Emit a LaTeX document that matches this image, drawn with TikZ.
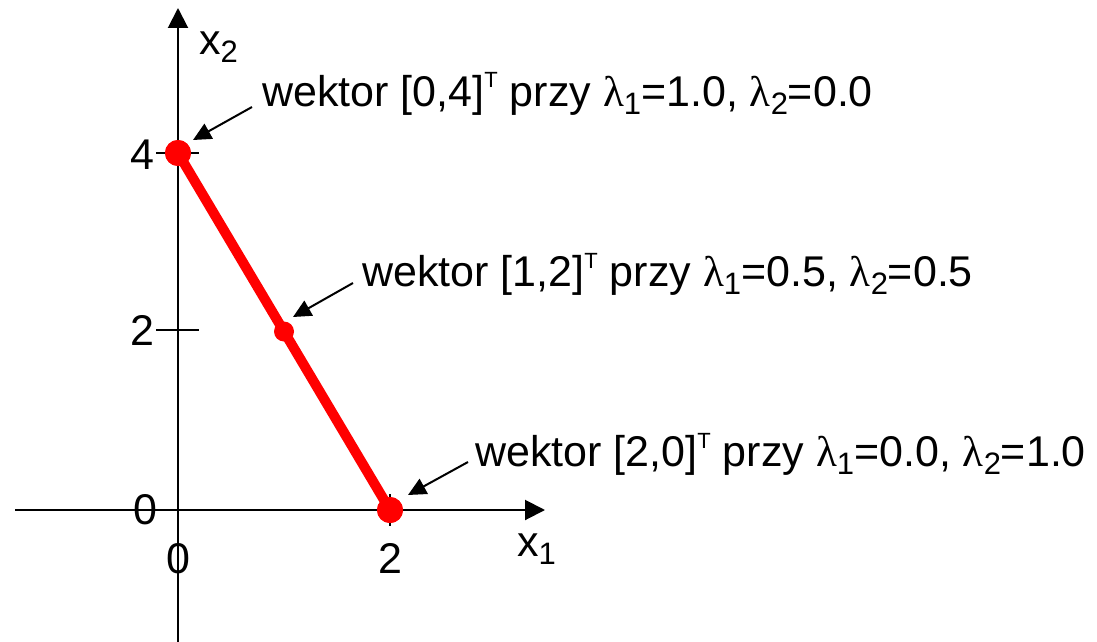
\documentclass[tikz,border=0pt]{standalone}
\usepackage{fontspec}
\setmainfont{Liberation Sans}
\newfontfamily\grkfont{Liberation Serif}
\usetikzlibrary{arrows.meta}
\newcommand{\labfont}{\fontsize{43}{50}\selectfont}
\newcommand{\mysup}[1]{\raisebox{18pt}{\fontsize{22}{26}\selectfont #1}}
\newcommand{\mysub}[1]{\raisebox{-8pt}{\fontsize{31}{36}\selectfont #1}}
\newcommand{\lam}{{\grkfont λ}}
\tikzset{
  axis/.style={line width=2pt,-{Triangle[length=20pt,width=20pt]}},
  pointer/.style={line width=2pt,-{Triangle[length=18pt,width=17pt]}},
  tickline/.style={line width=1.5pt},
  txt/.style={inner sep=0pt,font=\labfont},
  bigdot/.style={circle,fill=red,inner sep=0pt,minimum size=26pt},
  smalldot/.style={circle,fill=red,inner sep=0pt,minimum size=20pt},
  seg/.style={red,line width=10pt}
}
\begin{document}
\begin{tikzpicture}[x=1pt,y=-1pt]
\useasboundingbox (0,0) rectangle (1097,642);
% axes
\coordinate (ybot) at (178,642);
\coordinate (ytop) at (178,8);
\coordinate (xleft) at (15,510);
\coordinate (xright) at (545,510);
\draw[axis] (ybot) -- (ytop);
\draw[axis] (xleft) -- (xright);
% ticks
\coordinate (t4a) at (156,153); \coordinate (t4b) at (199,153);
\coordinate (t2a) at (156,330); \coordinate (t2b) at (199,330);
\coordinate (tx2a) at (390,494); \coordinate (tx2b) at (390,526);
\draw[tickline] (t4a) -- (t4b);
\draw[tickline] (t2a) -- (t2b);
\draw[tickline] (tx2a) -- (tx2b);
% tick labels
\node[txt,anchor=east] (ly4) at (155,155) {4};
\node[txt,anchor=east] (ly2) at (155,330) {2};
\node[txt,anchor=east] (ly0) at (158,510) {0};
\node[txt,anchor=base] (lx0) at (178,573) {0};
\node[txt,anchor=base] (lx2) at (390,573) {2};
% axis names
\node[txt,anchor=base west] (nx2) at (199,55) {x\mysub{2}};
\node[txt,anchor=base west] (nx1) at (517,556) {x\mysub{1}};
% segment and points
\node[bigdot] (p4) at (178,153) {};
\node[bigdot] (p2) at (390,510) {};
\draw[seg] (p4.center) -- (p2.center);
\node[bigdot] at (p4.center) {};
\node[bigdot] at (p2.center) {};
\node[smalldot] (pm) at (284,331.5) {};
% labels
\node[txt,anchor=base west] (l1) at (262,106) {wektor [0,4]\mysup{T} przy \lam\mysub{1}=1.0, \lam\mysub{2}=0.0};
\node[txt,anchor=base west] (l2) at (362,286) {wektor [1,2]\mysup{T} przy \lam\mysub{1}=0.5, \lam\mysub{2}=0.5};
\node[txt,anchor=base west] (l3) at (475,466) {wektor [2,0]\mysup{T} przy \lam\mysub{1}=0.0, \lam\mysub{2}=1.0};
% pointers
\coordinate (a1) at (252,107); \coordinate (a1t) at (193,140);
\coordinate (a2) at (353,283); \coordinate (a2t) at (293,317);
\coordinate (a3) at (468,462); \coordinate (a3t) at (408,495);
\draw[pointer] (a1) -- (a1t);
\draw[pointer] (a2) -- (a2t);
\draw[pointer] (a3) -- (a3t);
\end{tikzpicture}
\end{document}
